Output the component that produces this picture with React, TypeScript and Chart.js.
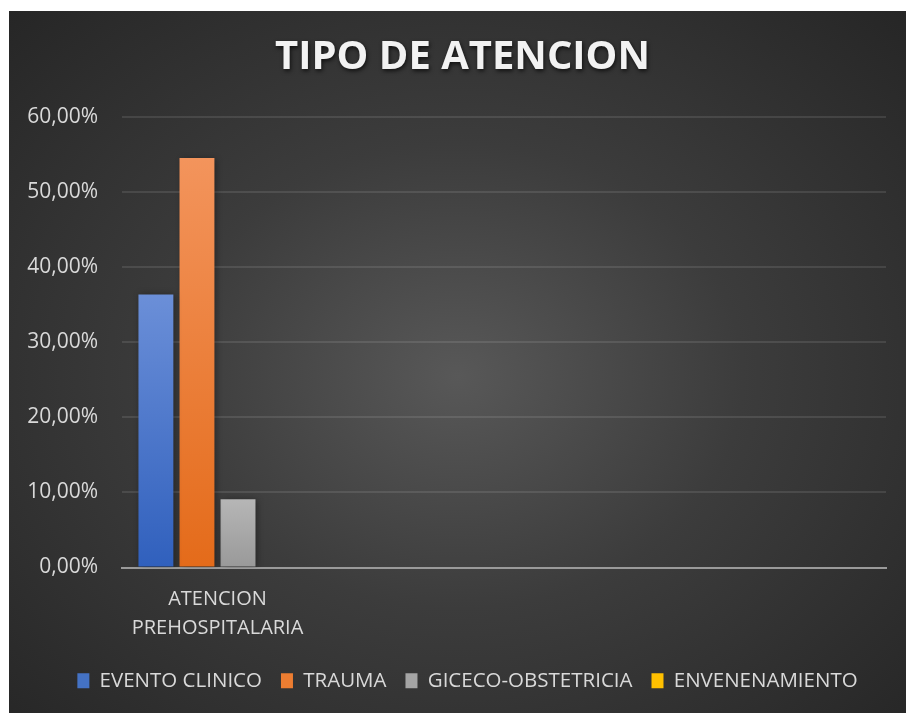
import React, { useEffect, useRef } from "react";
import { Chart, registerables } from "chart.js";

Chart.register(...registerables);

const chartTitle = "TIPO DE ATENCION";
const categories: (string | string[])[] = [["ATENCION", "PREHOSPITALARIA"], "", "", ""];
const seriesNames = ["EVENTO CLINICO", "TRAUMA", "GICECO-OBSTETRICIA", "ENVENENAMIENTO"];
const eventoClinico = [0.3636, null, null, null];
const trauma = [0.5455, null, null, null];
const gicecoObstetricia = [0.0909, null, null, null];
const envenenamiento = [0, null, null, null];
const yTicks = [0, 0.1, 0.2, 0.3, 0.4, 0.5, 0.6];

const topColors = ["#6b8fd8", "#f3945c", "#b6b6b6", "#ffd24a"];
const bottomColors = ["#3060bd", "#e46b1a", "#999999", "#ffc000"];
const legendColors = ["#4472c4", "#ed7d31", "#a5a5a5", "#ffc000"];
const textColor = "#d9d9d9";

function fmt(v: number) {
  return (v * 100).toFixed(2).replace(".", ",") + "%";
}

export default function App() {
  const ref = useRef<HTMLCanvasElement | null>(null);
  useEffect(() => {
    if (!ref.current) return;
    const makeFill = (i: number) => (ctx: any) => {
      const chart = ctx.chart;
      const y = chart.scales?.y;
      const v = ctx.raw;
      if (!y || v == null || !chart.chartArea) return legendColors[i];
      const top = y.getPixelForValue(v);
      const bottom = y.getPixelForValue(0);
      if (bottom - top < 1) return bottomColors[i];
      const g = chart.ctx.createLinearGradient(0, top, 0, bottom);
      g.addColorStop(0, topColors[i]);
      g.addColorStop(1, bottomColors[i]);
      return g;
    };
    const seriesData = [eventoClinico, trauma, gicecoObstetricia, envenenamiento];
    const titlePlugin = {
      id: "customTitle",
      afterDraw(chart: any) {
        const c = chart.ctx;
        c.save();
        c.font = "bold 40px 'Open Sans'";
        c.fillStyle = "#f2f2f2";
        c.textAlign = "center";
        c.textBaseline = "middle";
        c.shadowColor = "rgba(0,0,0,0.7)";
        c.shadowBlur = 4;
        c.shadowOffsetX = 1;
        c.shadowOffsetY = 2;
        c.fillText(chartTitle, chart.width / 2 + 5, 47);
        c.restore();
      },
    };
    const shadowPlugin = {
      id: "barShadow",
      beforeDatasetsDraw(chart: any) {
        const c = chart.ctx;
        c.save();
        c.shadowColor = "rgba(0,0,0,0.4)";
        c.shadowBlur = 7;
        c.shadowOffsetX = 2;
        c.shadowOffsetY = 1;
      },
      afterDatasetsDraw(chart: any) {
        chart.ctx.restore();
      },
    };
    const legendShift = {
      id: "legendShift",
      afterLayout(chart: any) {
        const lg = chart.legend;
        if (lg) {
          lg.left += 20;
          lg.right += 20;
        }
      },
    };
    const chart = new Chart(ref.current, {
      type: "bar",
      data: {
        labels: categories,
        datasets: seriesNames.map((name, i) => ({
          label: name,
          data: seriesData[i],
          backgroundColor: makeFill(i),
          borderWidth: 0,
          categoryPercentage: 0.86,
          barPercentage: 0.85,
        })),
      },
      options: {
        animation: false,
        responsive: false,
        maintainAspectRatio: false,
        layout: { padding: { left: 0, right: 20, top: 106, bottom: 12 } },
        plugins: {
          title: { display: false },
          tooltip: { enabled: false },
          legend: {
            position: "bottom",
            labels: {
              color: textColor,
              font: { family: "'Open Sans'", size: 20.5 },
              boxWidth: 12,
              boxHeight: 15,
              padding: 19,
              generateLabels: (ch: any) =>
                ch.data.datasets.map((ds: any, i: number) => ({
                  text: ds.label,
                  fillStyle: legendColors[i],
                  strokeStyle: legendColors[i],
                  lineWidth: 0,
                  hidden: false,
                  datasetIndex: i,
                  fontColor: textColor,
                })),
            },
          },
        },
        scales: {
          x: {
            grid: { display: false, drawTicks: false },
            border: { display: true, color: "#9a9a9a", width: 2 },
            ticks: {
              color: textColor,
              font: { family: "'Open Sans'", size: 20, lineHeight: 1.45 },
              padding: 17,
              maxRotation: 0,
              autoSkip: false,
            },
            afterFit: (s: any) => {
              s.height = 84;
            },
          },
          y: {
            min: 0,
            max: 0.6,
            afterBuildTicks: (s: any) => {
              s.ticks = yTicks.map((v) => ({ value: v }));
            },
            grid: { color: "rgba(255,255,255,0.1)", lineWidth: 2, drawTicks: false },
            border: { display: false },
            ticks: {
              color: textColor,
              font: { family: "'Open Sans'", size: 21 },
              padding: 24,
              callback: (v: any) => fmt(Number(v)),
            },
            afterFit: (s: any) => {
              s.width = 113;
            },
          },
        },
      },
      plugins: [titlePlugin, shadowPlugin, legendShift],
    });
    return () => chart.destroy();
  }, []);
  return (
    <div
      style={{
        position: "absolute",
        left: 9,
        top: 11,
        width: 897,
        height: 702,
        background:
          "radial-gradient(ellipse farthest-corner at 50% 52%, #585858 0%, #3c3c3c 45%, #262626 100%)",
      }}
    >
      <canvas ref={ref} width={897} height={702} style={{ display: "block" }} />
    </div>
  );
}
